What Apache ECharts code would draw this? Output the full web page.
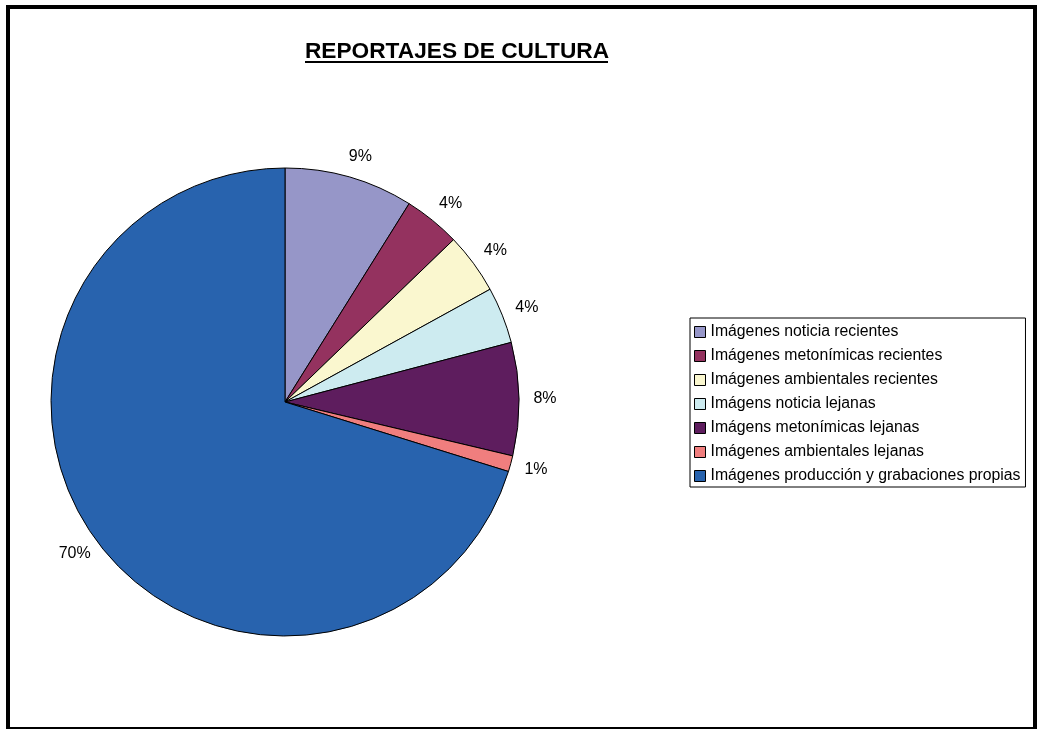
<!DOCTYPE html>
<html>
<head>
<meta charset="utf-8">
<script src="https://cdn.jsdelivr.net/npm/echarts@6/dist/echarts.min.js"></script>
<style>
body { margin: 0; background: #fff; }
#frame {
    position: absolute;
    left: 6px; top: 5px;
    width: 1023px; height: 718px;
    border: 4px solid #000;
    border-bottom-width: 2px;
}
#chart { position: absolute; left: 0; top: 0; width: 1038px; height: 729px; }
</style>
</head>
<body>
<div id="frame"></div>
<div id="chart"></div>
<script>
// categorías y porcentajes
const categories = [
    'Imágenes noticia recientes',
    'Imágenes metonímicas recientes',
    'Imágenes ambientales recientes',
    'Imágens noticia lejanas',
    'Imágens metonímicas lejanas',
    'Imágenes ambientales lejanas',
    'Imágenes producción y grabaciones propias'
]
const values = [8.9, 3.9, 4.2, 3.9, 7.8, 1.1, 70.2]
const colors = ['#9696C8', '#94325F', '#FAF7CF', '#CDEBF0', '#5E1D5E', '#F07E7E', '#2863AE']

const chart = echarts.init(document.getElementById('chart'))
chart.setOption({
    animation: false,
    color: colors,
    title: {
        text: 'REPORTAJES DE CULTURA',
        left: 452,
        textAlign: 'center',
        top: 35,
        textStyle: {
            fontFamily: 'Liberation Sans, Arial',
            fontSize: 22.7,
            fontWeight: 'bold',
            color: '#000'
        }
    },
    graphic: [
        {
            type: 'line',
            shape: { x1: 305, y1: 62, x2: 608, y2: 62 },
            style: { stroke: '#000', lineWidth: 2 }
        }
    ],
    legend: {
        orient: 'vertical',
        left: 690,
        top: 318,
        padding: [6, 5, 3, 4],
        itemGap: 8,
        itemWidth: 11,
        itemHeight: 11,
        itemTextGap: 4,
        borderColor: '#000',
        borderWidth: 1,
        icon: 'rect',
        itemStyle: { borderColor: '#000', borderWidth: 1 },
        textStyle: {
            fontFamily: 'Liberation Sans, Arial',
            fontSize: 15.8,
            lineHeight: 16,
            color: '#000'
        },
        data: categories
    },
    series: [
        {
            type: 'pie',
            center: [285, 402],
            radius: 234,
            startAngle: 90,
            clockwise: true,
            avoidLabelOverlap: false,
            itemStyle: { borderColor: '#000', borderWidth: 1 },
            label: {
                show: true,
                position: 'outside',
                fontFamily: 'Liberation Sans, Arial',
                fontSize: 16,
                color: '#000',
                formatter: function (p) {
                    return Math.round(p.percent) + '%'
                }
            },
            labelLayout: { align: 'center', verticalAlign: 'middle' },
            labelLine: { show: false, length: 21, length2: 0 },
            emphasis: { disabled: true },
            data: categories.map((name, i) => ({ name: name, value: values[i] }))
        }
    ]
})
</script>
</body>
</html>
